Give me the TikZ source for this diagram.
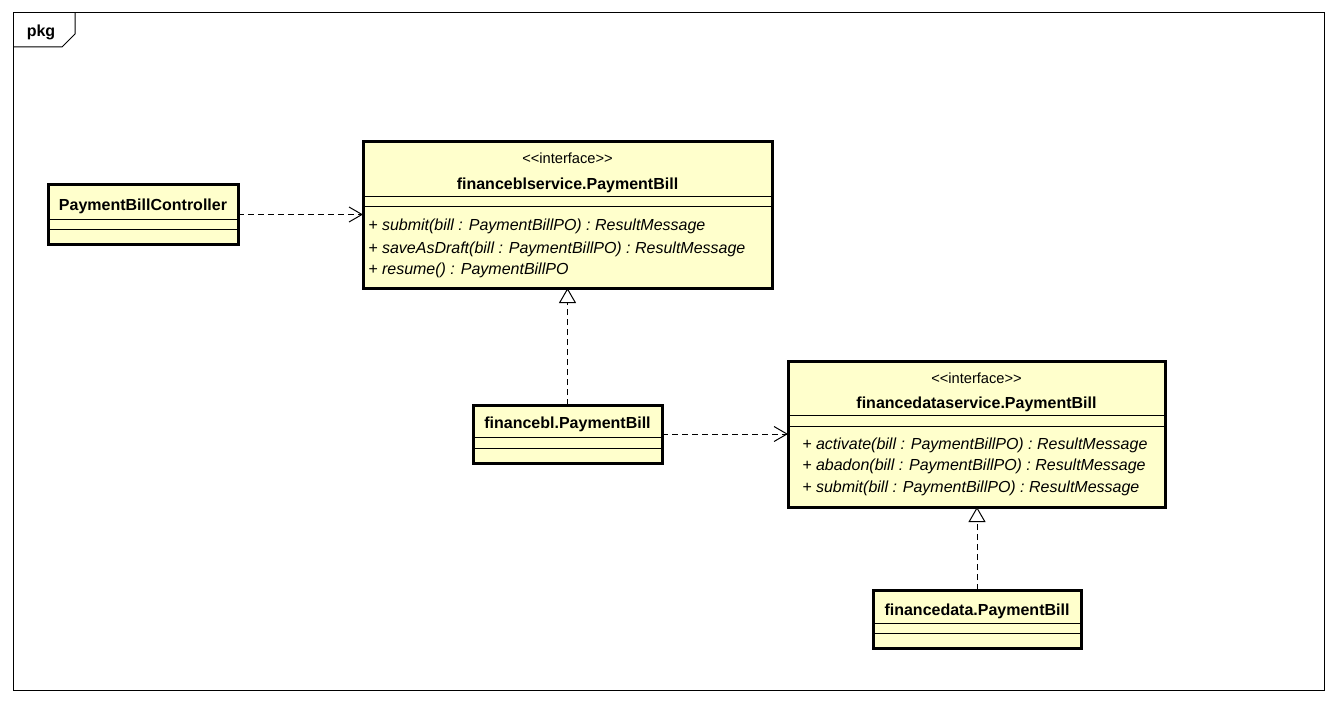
\documentclass[tikz,border=0pt]{standalone}
\usepackage{fontspec}
\setmainfont{Liberation Sans}
\usetikzlibrary{arrows.meta}
\definecolor{classfill}{RGB}{255,255,204}
\begin{document}
\begin{tikzpicture}[x=0.75pt,y=-0.75pt,
  classbox/.style={draw, line width=2.25pt, fill=classfill, anchor=north west,
    inner sep=0pt, outer sep=0pt},
  compline/.style={line width=0.75pt},
  cname/.style={font=\fontsize{12}{14}\selectfont\bfseries, anchor=base, inner sep=0pt},
  stereo/.style={font=\fontsize{11}{13}\selectfont, anchor=base, inner sep=0pt},
  member/.style={font=\fontsize{12}{14}\selectfont\itshape, anchor=base west, inner sep=0pt},
  dep/.style={line width=0.75pt, dash pattern=on 4.5pt off 3pt,
    -{Straight Barb[length=9.75pt, width=11.25pt, line width=0.75pt]}},
  realize/.style={line width=0.75pt, dash pattern=on 4.5pt off 3pt,
    -{Triangle[open, length=11.25pt, width=12.75pt, line width=0.75pt, fill=white]}}]

% canvas
\fill[white] (0,0) rectangle (1337,702);
\useasboundingbox (0,0) rectangle (1337,702);

% package frame with its name tab
\draw[line width=0.75pt] (13,13) rectangle (1324,690);
\draw[line width=0.75pt] (13,47) -- (62,47) -- (75,34) -- (75,13);
\node[font=\fontsize{12}{14}\selectfont\bfseries, anchor=base, inner sep=0pt] (pkg) at (41,37) {pkg};

% PaymentBillController
\node[classbox, minimum width=142.5pt, minimum height=44.25pt] (ctrl) at (48,185) {};
\node[cname] (ctrlname) at (143,211) {PaymentBillController};
\draw[compline] (ctrl.west |- 0,220) -- (ctrl.east |- 0,220);
\draw[compline] (ctrl.west |- 0,230) -- (ctrl.east |- 0,230);

% financeblservice.PaymentBill
\node[classbox, minimum width=306.75pt, minimum height=109.5pt] (blsvc) at (363,142) {};
\node[stereo] (blsvcst) at (567.5,164) {<{}<interface>{}>};
\node[cname] (blsvcname) at (567.5,190) {financeblservice.PaymentBill};
\draw[compline] (blsvc.west |- 0,197) -- (blsvc.east |- 0,197);
\draw[compline] (blsvc.west |- 0,207) -- (blsvc.east |- 0,207);
\node[member] (m1) at (368,231) {+ submit(bill : PaymentBillPO) : ResultMessage};
\node[member] (m2) at (368,253) {+ saveAsDraft(bill : PaymentBillPO) : ResultMessage};
\node[member] (m3) at (368,274) {+ resume() : PaymentBillPO};

% financebl.PaymentBill
\node[classbox, minimum width=141.75pt, minimum height=43.5pt] (bl) at (473,405) {};
\node[cname] (blname) at (567.5,428) {financebl.PaymentBill};
\draw[compline] (bl.west |- 0,437) -- (bl.east |- 0,437);
\draw[compline] (bl.west |- 0,448) -- (bl.east |- 0,448);

% financedataservice.PaymentBill
\node[classbox, minimum width=282.75pt, minimum height=109.5pt] (dsvc) at (788,361) {};
\node[stereo] (dsvcst) at (976.5,383) {<{}<interface>{}>};
\node[cname] (dsvcname) at (976.5,408) {financedataservice.PaymentBill};
\draw[compline] (dsvc.west |- 0,415) -- (dsvc.east |- 0,415);
\draw[compline] (dsvc.west |- 0,426) -- (dsvc.east |- 0,426);
\node[member] (d1) at (802,449) {+ activate(bill : PaymentBillPO) : ResultMessage};
\node[member] (d2) at (802,470) {+ abadon(bill : PaymentBillPO) : ResultMessage};
\node[member] (d3) at (802,492) {+ submit(bill : PaymentBillPO) : ResultMessage};

% financedata.PaymentBill
\node[classbox, minimum width=156pt, minimum height=43.5pt] (data) at (873,590) {};
\node[cname] (dataname) at (977,615) {financedata.PaymentBill};
\draw[compline] (data.west |- 0,623) -- (data.east |- 0,623);
\draw[compline] (data.west |- 0,633) -- (data.east |- 0,633);

% relationships
\draw[dep] (ctrl.east) -- (ctrl.east -| blsvc.west);
\draw[dep] (bl.east) -- (bl.east -| dsvc.west);
\draw[realize] (bl.north) -- (bl.north |- blsvc.south);
\draw[realize] (data.north) -- (data.north |- dsvc.south);
\end{tikzpicture}
\end{document}
